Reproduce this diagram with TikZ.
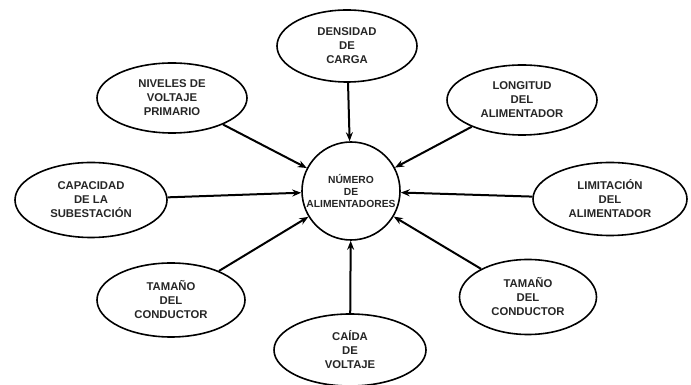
\documentclass[tikz,border=0pt]{standalone}
\usepackage{fontspec}
\setmainfont{Liberation Sans}
\usetikzlibrary{shapes.geometric,arrows.meta}
\definecolor{ink}{HTML}{262626}
\begin{document}
\begin{tikzpicture}[x=1pt,y=1pt,
  factor/.style={ellipse,draw,line width=1.6pt,minimum width=150pt,minimum height=72pt,
    inner sep=0pt,align=center,text=ink,font=\bfseries\fontsize{11.3}{14}\selectfont},
  hub/.style={circle,draw,line width=1.6pt,minimum size=98pt,inner sep=0pt,
    align=center,text=ink,font=\bfseries\fontsize{10.3}{12}\selectfont},
  arr/.style={line width=2pt,-{Stealth[length=9pt,width=7pt]}}]
\useasboundingbox (0,0) rectangle (691,385);
\node[hub] (c) at (351,194) {NÚMERO\\DE\\ALIMENTADORES};
\node[factor,minimum width=140pt] (top) at (347,339) {DENSIDAD\\DE\\CARGA};
\node[factor,minimum height=70pt] (tl) at (172,287) {NIVELES DE\\VOLTAJE\\PRIMARIO};
\node[factor,minimum height=70pt] (tr) at (522,285) {LONGITUD\\DEL\\ALIMENTADOR};
\node[factor,minimum width=152pt,minimum height=75pt] (l) at (91,185) {CAPACIDAD\\DE LA\\SUBESTACIÓN};
\node[factor,minimum width=154pt,minimum height=73pt] (r) at (610,186) {LIMITACIÓN\\DEL\\ALIMENTADOR};
\node[factor,minimum width=148pt,minimum height=74pt] (bl) at (171,85) {TAMAÑO\\DEL\\CONDUCTOR};
\node[factor,minimum width=137pt,minimum height=75pt] (br) at (528,88) {TAMAÑO\\DEL\\CONDUCTOR};
\node[factor,minimum width=152pt] (b) at (350,35) {CAÍDA\\DE\\VOLTAJE};
\foreach \n in {top,tl,tr,l,r,bl,br,b}
  \draw[arr] (\n) -- (c);
\end{tikzpicture}
\end{document}
